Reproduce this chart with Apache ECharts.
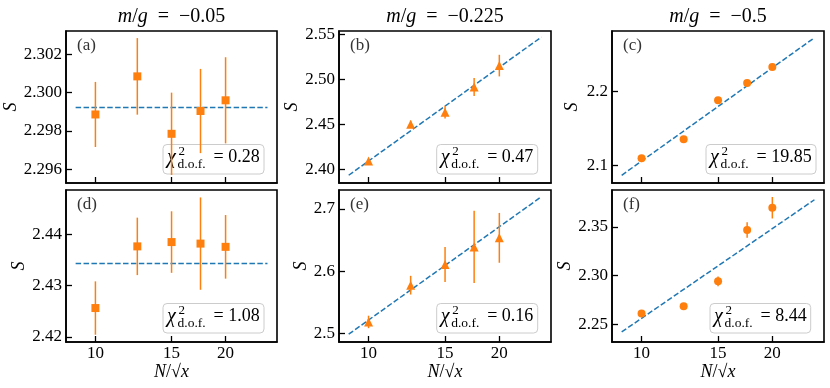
<!DOCTYPE html>
<html>
<head>
<meta charset="utf-8">
<title>S vs N/sqrt(x)</title>
<script src="https://cdn.jsdelivr.net/npm/echarts@6/dist/echarts.min.js"></script>
</head>
<body style="margin:0">
<div id="chart" style="width:830px;height:388px;"></div>
<script>
// data
const xVals = [10, 12.5, 15, 17.5, 20];
const fitX = [9, 25];
const xTicks = [10, 15, 20];

// (a) m/g = -0.05
const sA = [2.29886, 2.30085, 2.29785, 2.29904, 2.29960];
const eA = [0.0017, 0.0020, 0.00215, 0.0022, 0.00225];
const fitA = [2.29923, 2.29923];
const ticksA = [2.296, 2.298, 2.300, 2.302];
// (b) m/g = -0.225
const sB = [2.4093, 2.4502, 2.4636, 2.4915, 2.5153];
const eB = [0.002, 0.004, 0.007, 0.010, 0.012];
const fitB = [2.3936, 2.547];
const ticksB = [2.40, 2.45, 2.50, 2.55];
// (c) m/g = -0.5
const sC = [2.1095, 2.1351, 2.1878, 2.2108, 2.2324];
const eC = [0.001, 0.001, 0.001, 0.001, 0.001];
const fitC = [2.0865, 2.272];
const ticksC = [2.1, 2.2];
// (d)
const sD = [2.42564, 2.43766, 2.4385, 2.4382, 2.43757];
const eD = [0.0052, 0.0056, 0.006, 0.009, 0.0062];
const fitD = [2.43434, 2.43434];
const ticksD = [2.42, 2.43, 2.44];
// (e)
const sE = [2.5187, 2.5777, 2.611, 2.6392, 2.6537];
const eE = [0.010, 0.015, 0.028, 0.058, 0.040];
const fitE = [2.499, 2.7197];
const ticksE = [2.5, 2.6, 2.7];
// (f)
const sF = [2.261, 2.2685, 2.2941, 2.3466, 2.3695];
const eF = [0.001, 0.003, 0.005, 0.008, 0.011];
const fitF = [2.2421, 2.3777];
const ticksF = [2.25, 2.30, 2.35];

const titles = ['−0.05', '−0.225', '−0.5'];
const letters = ['(a)', '(b)', '(c)', '(d)', '(e)', '(f)'];
const chiVals = ['0.28', '0.47', '19.85', '1.08', '0.16', '8.44'];

const ORANGE = '#ff7f0e', BLUE = '#1f77b4';
const FONT = 'Liberation Serif';
const colLeft = [66, 339, 612], colW = [211, 212, 212];
const rowTop = [31, 190], rowH = 152;

const panels = [
  {s: sA, e: eA, fit: fitA, ticks: ticksA, min: 2.29528, max: 2.30322, dec: 3, sym: 'rect', size: 8, gap: 44, box: [163, 101]},
  {s: sB, e: eB, fit: fitB, ticks: ticksB, min: 2.385, max: 2.5537, dec: 2, sym: 'triangle', size: 9, gap: 37, box: [436.7, 101]},
  {s: sC, e: eC, fit: fitC, ticks: ticksC, min: 2.0761, max: 2.2811, dec: 1, sym: 'circle', size: 8, gap: 31, box: [706, 110]},
  {s: sD, e: eD, fit: fitD, ticks: ticksD, min: 2.41902, max: 2.44865, dec: 2, sym: 'rect', size: 8, gap: 35, box: [163, 101]},
  {s: sE, e: eE, fit: fitE, ticks: ticksE, min: 2.4865, max: 2.7305, dec: 1, sym: 'triangle', size: 9, gap: 29, box: [436.7, 101]},
  {s: sF, e: eF, fit: fitF, ticks: ticksF, min: 2.2318, max: 2.3877, dec: 2, sym: 'circle', size: 8, gap: 31, box: [710, 100.7]}
];

const grid = [], xAxis = [], yAxis = [], series = [], graphic = [];
const axisLine = {show: true, lineStyle: {color: '#000', width: 1.6}};
const tickStyle = {color: '#000', width: 1.3};

panels.forEach((p, i) => {
  const row = Math.floor(i / 3), col = i % 3;
  const L = colLeft[col], T = rowTop[row], W = colW[col];
  grid.push({left: L, top: T, width: W, height: rowH, show: true, borderColor: '#000', borderWidth: 1.6, outerBoundsMode: 'none'});
  xAxis.push({
    gridIndex: i, type: 'log', logBase: 10, min: 8.55, max: 26.3,
    axisLine: axisLine,
    axisTick: {inside: true, length: 6, customValues: xTicks, lineStyle: tickStyle},
    minorTick: {show: false},
    axisLabel: {show: row === 1, customValues: xTicks, margin: 3, color: '#000', fontFamily: FONT, fontSize: 17},
    splitLine: {show: false},
    name: row === 1 ? '{i|N}/√{i|x}' : '',
    nameLocation: 'middle', nameGap: 16,
    nameTextStyle: {color: '#000', fontFamily: FONT, fontSize: 18,
      rich: {i: {fontStyle: 'italic', fontFamily: FONT, fontSize: 18, color: '#000'}}}
  });
  yAxis.push({
    gridIndex: i, type: 'value', min: p.min, max: p.max,
    axisLine: axisLine,
    axisTick: {inside: true, length: 6, customValues: p.ticks, lineStyle: tickStyle},
    axisLabel: {customValues: p.ticks, margin: 4, color: '#000', fontFamily: FONT, fontSize: 17,
      formatter: v => v.toFixed(p.dec)},
    splitLine: {show: false},
    name: 'S', nameLocation: 'middle', nameGap: p.gap, nameRotate: 90,
    nameTextStyle: {color: '#000', fontFamily: FONT, fontSize: 18, fontStyle: 'italic'}
  });
  series.push({
    type: 'line', xAxisIndex: i, yAxisIndex: i, z: 2, silent: true,
    data: fitX.map((x, k) => [x, p.fit[k]]),
    symbol: 'none', lineStyle: {color: BLUE, width: 1.5, type: [5.5, 2.4]}
  });
  series.push({
    type: 'custom', xAxisIndex: i, yAxisIndex: i, z: 3, clip: true, silent: true,
    data: xVals.map((x, k) => [x, p.s[k], p.e[k]]),
    renderItem: (params, api) => {
      const x = api.value(0), y = api.value(1), e = api.value(2);
      const a = api.coord([x, y - e]), b = api.coord([x, y + e]);
      return {type: 'line', shape: {x1: a[0], y1: a[1], x2: b[0], y2: b[1]},
        style: {stroke: ORANGE, lineWidth: 1.5}};
    }
  });
  series.push({
    type: 'scatter', xAxisIndex: i, yAxisIndex: i, z: 4, silent: true,
    data: xVals.map((x, k) => [x, p.s[k]]),
    symbol: p.sym, symbolSize: p.size, itemStyle: {color: ORANGE, opacity: 1}
  });

  // panel letter
  graphic.push({type: 'text', x: L + 11, y: T + 15, z: 10,
    style: {text: letters[i], font: `17px "${FONT}"`, fill: '#333', verticalAlign: 'middle'}});

  // chi-square box
  const bx = p.box[0], by = T + 113.5, bw = p.box[1];
  graphic.push({type: 'group', x: bx, y: by, z: 1, children: [
    {type: 'rect', z: 1, shape: {x: 0, y: 0, width: bw, height: 29.5, r: 4},
      style: {fill: 'rgba(255,255,255,0.8)', stroke: '#cccccc', lineWidth: 1}},
    {type: 'text', z: 1, x: 4, y: 13, style: {text: 'χ', font: `italic 20px "${FONT}"`, fill: '#000', verticalAlign: 'middle'}},
    {type: 'text', z: 1, x: 15.5, y: 7, style: {text: '2', font: `13px "${FONT}"`, fill: '#000', verticalAlign: 'middle'}},
    {type: 'text', z: 1, x: 14.5, y: 19.5, style: {text: 'd.o.f.', font: `13.5px "${FONT}"`, fill: '#000', verticalAlign: 'middle'}},
    {type: 'text', z: 1, x: 50.5, y: 13, style: {text: '= ' + chiVals[i], font: `18px "${FONT}"`, fill: '#000', verticalAlign: 'middle'}}
  ]});
});

titles.forEach((t, c) => {
  graphic.push({type: 'text', x: colLeft[c] + colW[c] / 2, y: 16.5,
    style: {text: '{i|m}/{i|g}\u2002=\u2002' + t, font: `20px "${FONT}"`, fill: '#000', align: 'center', verticalAlign: 'middle',
      rich: {i: {fontStyle: 'italic', fontFamily: FONT, fontSize: 20}}}});
});

const chart = echarts.init(document.getElementById('chart'));
chart.setOption({
  animation: false,
  backgroundColor: '#fff',
  grid, xAxis, yAxis, series, graphic
});
</script>
</body>
</html>
